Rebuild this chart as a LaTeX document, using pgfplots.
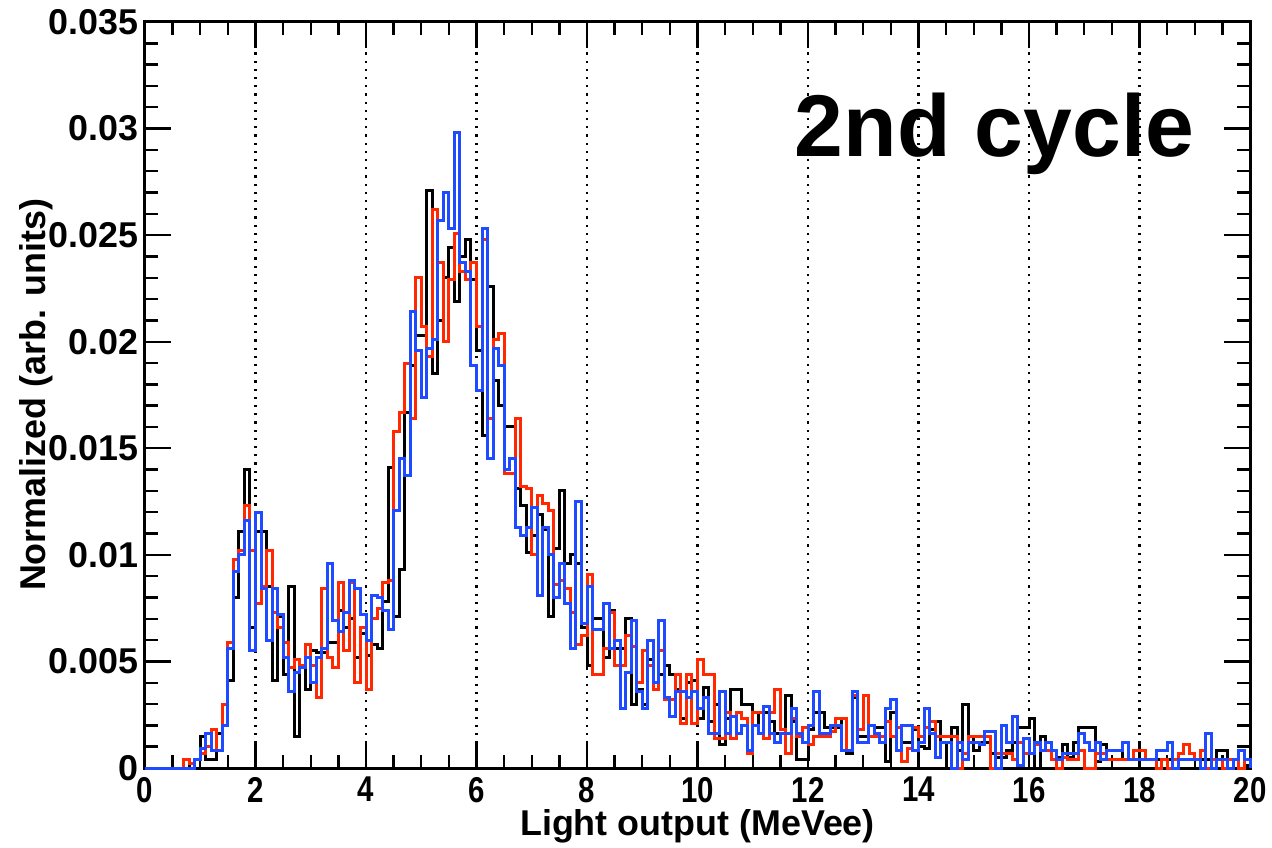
\documentclass[border=0pt]{standalone}
\usepackage{pgfplots}
\pgfplotsset{compat=1.18}
\usepackage{pgfplotstable}
\usepackage{graphicx}
\usepackage{fontspec}
\setmainfont{Liberation Sans}
\definecolor{hred}{RGB}{255,40,0}
\definecolor{hblue}{RGB}{30,75,255}

\pgfplotstableread{
x k r b
0.0 0 0 0
0.1 0 0 0
0.2 0 0 0
0.3 0 0 0
0.4 0 0 0
0.5 0 0 0
0.6 0 0 0
0.7 0 0.0004 0
0.8 0.0002 0.0002 0
0.9 0.0004 0.0004 0.0004
1.0 0.0015 0.0007 0.0009
1.1 0.0004 0.0010 0.0016
1.2 0.0004 0.0018 0.0008
1.3 0.0016 0.0008 0.0008
1.4 0.0030 0.0030 0.0020
1.5 0.0041 0.0059 0.0056
1.6 0.0080 0.0098 0.0092
1.7 0.0111 0.0102 0.0100
1.8 0.0140 0.0123 0.0116
1.9 0.0066 0.0102 0.0055
2.0 0.0111 0.0077 0.0120
2.1 0.0111 0.0085 0.0084
2.2 0.0085 0.0102 0.0060
2.3 0.0041 0.0073 0.0084
2.4 0.0071 0.0066 0.0072
2.5 0.0044 0.0059 0.0052
2.6 0.0085 0.0047 0.0036
2.7 0.0015 0.0051 0.0045
2.8 0.0048 0.0048 0.0047
2.9 0.0037 0.0058 0.0052
3.0 0.0055 0.0048 0.0040
3.1 0.0054 0.0033 0.0052
3.2 0.0054 0.0084 0.0056
3.3 0.0059 0.0052 0.0096
3.4 0.0059 0.0047 0.0069
3.5 0.0074 0.0087 0.0064
3.6 0.0066 0.0055 0.0073
3.7 0.0070 0.0087 0.0088
3.8 0.0052 0.0040 0.0084
3.9 0.0063 0.0066 0.0072
4.0 0.0053 0.0037 0.0060
4.1 0.0058 0.0070 0.0081
4.2 0.0056 0.0075 0.0080
4.3 0.0078 0.0087 0.0074
4.4 0.0141 0.0088 0.0065
4.5 0.0071 0.0158 0.0121
4.6 0.0093 0.0167 0.0145
4.7 0.0167 0.0190 0.0137
4.8 0.0189 0.0164 0.0214
4.9 0.0203 0.0230 0.0196
5.0 0.0203 0.0207 0.0174
5.1 0.0271 0.0193 0.0197
5.2 0.0185 0.0262 0.0201
5.3 0.0210 0.0237 0.0257
5.4 0.0230 0.0200 0.0270
5.5 0.0244 0.0229 0.0253
5.6 0.0219 0.0251 0.0298
5.7 0.0240 0.0233 0.0237
5.8 0.0248 0.0229 0.0233
5.9 0.0229 0.0237 0.0189
6.0 0.0196 0.0207 0.0177
6.1 0.0156 0.0248 0.0253
6.2 0.0226 0.0164 0.0145
6.3 0.0182 0.0201 0.0197
6.4 0.0170 0.0204 0.0189
6.5 0.0160 0.0138 0.0140
6.6 0.0160 0.0138 0.0145
6.7 0.0131 0.0164 0.0113
6.8 0.0123 0.0132 0.0109
6.9 0.0101 0.0131 0.0113
7.0 0.0109 0.0100 0.0122
7.1 0.0119 0.0128 0.0081
7.2 0.0112 0.0124 0.0113
7.3 0.0071 0.0121 0.0100
7.4 0.0103 0.0086 0.0080
7.5 0.0130 0.0088 0.0096
7.6 0.0096 0.0084 0.0077
7.7 0.0100 0.0073 0.0056
7.8 0.0096 0.0058 0.0125
7.9 0.0066 0.0062 0.0068
8.0 0.0048 0.0091 0.0085
8.1 0.0070 0.0044 0.0065
8.2 0.0070 0.0044 0.0065
8.3 0.0052 0.0056 0.0077
8.4 0.0074 0.0073 0.0056
8.5 0.0056 0.0048 0.0060
8.6 0.0056 0.0048 0.0028
8.7 0.0070 0.0062 0.0045
8.8 0.0030 0.0057 0.0069
8.9 0.0037 0.0040 0.0036
9.0 0.0030 0.0055 0.0028
9.1 0.0051 0.0048 0.0060
9.2 0.0037 0.0037 0.0040
9.3 0.0044 0.0055 0.0069
9.4 0.0048 0.0032 0.0033
9.5 0.0044 0.0032 0.0024
9.6 0.0037 0.0044 0.0036
9.7 0.0023 0.0021 0.0036
9.8 0.0040 0.0044 0.0033
9.9 0.0041 0.0021 0.0036
10.0 0.0023 0.0051 0.0028
10.1 0.0038 0.0044 0.0033
10.2 0.0022 0.0044 0.0016
10.3 0.0030 0.0014 0.0016
10.4 0.0011 0.0014 0.0036
10.5 0.0023 0.0026 0.0016
10.6 0.0037 0.0014 0.0024
10.7 0.0037 0.0026 0.0016
10.8 0.0030 0.0023 0.0020
10.9 0.0030 0.0007 0.0008
11.0 0.0020 0.0026 0.0020
11.1 0.0026 0.0026 0.0016
11.2 0.0026 0.0014 0.0029
11.3 0.0022 0.0026 0.0016
11.4 0.0016 0.0037 0.0012
11.5 0.0016 0.0018 0.0016
11.6 0.0034 0.0007 0.0016
11.7 0.0022 0.0023 0.0028
11.8 0.0004 0.0015 0.0016
11.9 0.0004 0.0019 0.0012
12.0 0.0018 0.0011 0.0020
12.1 0.0026 0.0015 0.0036
12.2 0.0026 0.0015 0.0016
12.3 0.0019 0.0015 0.0016
12.4 0.0019 0.0017 0.0020
12.5 0.0019 0.0023 0.0020
12.6 0.0023 0.0023 0.0008
12.7 0.0007 0.0008 0.0008
12.8 0.0033 0.0034 0.0036
12.9 0.0015 0.0018 0.0012
13.0 0.0015 0.0034 0.0012
13.1 0.0015 0.0015 0.0020
13.2 0.0019 0.0015 0.0016
13.3 0.0019 0.0015 0.0012
13.4 0.0003 0.0022 0.0028
13.5 0.0026 0.0015 0.0032
13.6 0.0019 0.0019 0.0008
13.7 0.0012 0.0003 0.0020
13.8 0.0012 0.0009 0.0020
13.9 0.0018 0.0019 0.0008
14.0 0.0010 0.0015 0.0012
14.1 0.0009 0.0019 0.0028
14.2 0.0018 0.0022 0.0016
14.3 0.0022 0.0015 0.0005
14.4 0.0012 0.0015 0.0012
14.5 0.0000 0.0015 0.0012
14.6 0.0019 0.0015 0.0000
14.7 0.0008 0.0000 0.0012
14.8 0.0030 0.0007 0.0004
14.9 0.0015 0.0015 0.0012
15.0 0.0008 0.0015 0.0012
15.1 0.0012 0.0015 0.0011
15.2 0.0012 0.0015 0.0017
15.3 0.0007 0.0000 0.0017
15.4 0.0005 0.0007 0.0000
15.5 0.0005 0.0007 0.0020
15.6 0.0008 0.0007 0.0012
15.7 0.0012 0.0004 0.0024
15.8 0.0019 0.0012 0.0001
15.9 0.0019 0.0007 0.0014
16.0 0.0023 0.0007 0.0007
16.1 0.0000 0.0011 0.0012
16.2 0.0015 0.0008 0.0008
16.3 0.0008 0.0008 0.0012
16.4 0.0004 0.0004 0.0008
16.5 0.0005 0.0000 0.0004
16.6 0.0011 0.0005 0.0007
16.7 0.0005 0.0004 0.0007
16.8 0.0012 0.0004 0.0007
16.9 0.0019 0.0008 0.0016
17.0 0.0019 0.0000 0.0012
17.1 0.0019 0.0000 0.0008
17.2 0.0003 0.0007 0.0012
17.3 0.0011 0.0007 0.0004
17.4 0.0008 0.0004 0.0008
17.5 0.0008 0.0004 0.0008
17.6 0.0008 0.0004 0.0008
17.7 0.0004 0.0004 0.0012
17.8 0.0004 0.0004 0.0004
17.9 0.0004 0.0008 0.0004
18.0 0.0004 0.0008 0.0004
18.1 0.0004 0.0004 0.0004
18.2 0.0004 0.0004 0.0004
18.3 0.0004 0.0000 0.0008
18.4 0.0004 0.0004 0.0008
18.5 0.0004 0.0000 0.0012
18.6 0.0004 0.0004 0.0000
18.7 0.0004 0.0007 0.0004
18.8 0.0004 0.0011 0.0004
18.9 0.0004 0.0007 0.0004
19.0 0.0004 0.0004 0.0004
19.1 0.0004 0.0008 0.0000
19.2 0.0004 0.0000 0.0016
19.3 0.0004 0.0004 0.0000
19.4 0.0008 0.0004 0.0004
19.5 0.0008 0.0000 0.0004
19.6 0.0004 0.0004 0.0000
19.7 0.0004 0.0004 0.0004
19.8 0.0008 0.0000 0.0008
19.9 0.0001 0.0004 0.0004
20.0 0 0 0
}\data

\begin{document}
\begin{tikzpicture}
\path[use as bounding box] (-72.5bp,-40bp) rectangle (563.5bp,384bp);
\begin{axis}[
  scale only axis, width=552.5bp, height=373bp,
  xmin=0, xmax=20, ymin=0, ymax=0.035,
  axis line style={line width=1.5bp},
  every tick/.style={black, line width=1.2bp},
  major tick length=13bp, minor tick length=6.5bp,
  tick align=inside,
  xtick={0,2,4,6,8,10,12,14,16,18,20}, minor x tick num=3,
  ytick={0,0.005,0.01,0.015,0.02,0.025,0.03,0.035},
  yticklabels={0,0.005,0.01,0.015,0.02,0.025,0.03,0.035},
  minor y tick num=4,
  scaled y ticks=false,
  /pgf/number format/assume math mode=true,
  xticklabel={\scalebox{0.82}[1]{\pgfmathprintnumber{\tick}}},
  xticklabel style={font=\bfseries\fontsize{18}{18}\selectfont, yshift=-1bp},
  yticklabel style={font=\bfseries\fontsize{18}{18}\selectfont},
  xmajorgrids=true,
  major grid style={black, line width=1.1bp, dash pattern=on 1.1bp off 3bp},
  xlabel={Light output (MeVee)},
  xlabel style={font=\bfseries\fontsize{18}{18}\selectfont, at={(axis description cs:0.5,-0.0777)}, anchor=center},
  ylabel={Normalized (arb. units)},
  ylabel style={font=\bfseries\fontsize{18}{18}\selectfont, at={(axis description cs:-0.0986,0.5)}, anchor=center},
  clip=false,
]
\addplot[const plot mark left, black, line width=1.5bp] table[x=x, y=k] {\data};
\addplot[const plot mark left, hred, line width=1.5bp] table[x=x, y=r] {\data};
\addplot[const plot mark left, hblue, line width=1.5bp] table[x=x, y=b] {\data};
\node[anchor=base east, font=\bfseries\fontsize{44}{44}\selectfont, inner sep=0pt] at (axis cs:19.0,0.0287) {2nd cycle};
\end{axis}
\end{tikzpicture}
\end{document}
